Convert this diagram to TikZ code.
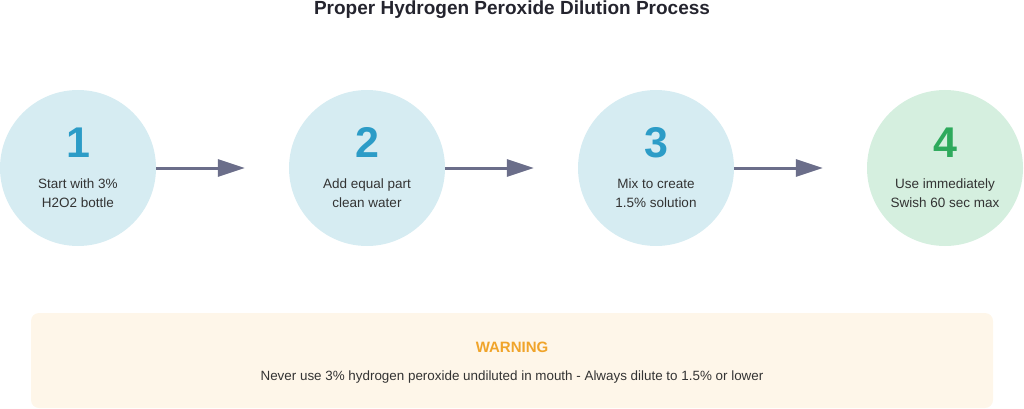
\documentclass[tikz,border=0pt]{standalone}
\usepackage{fontspec}
\setmainfont{Liberation Sans}
\usetikzlibrary{arrows.meta}
\definecolor{stepfill}{HTML}{D6ECF2}
\definecolor{donefill}{HTML}{D5EFDF}
\definecolor{numblue}{HTML}{2C9CC7}
\definecolor{numgreen}{HTML}{2EAA5C}
\definecolor{arrowc}{HTML}{6B6E8A}
\definecolor{txt}{HTML}{333333}
\definecolor{titlec}{HTML}{24242E}
\definecolor{warnfill}{HTML}{FEF6E9}
\definecolor{warnc}{HTML}{F0A42A}
\tikzset{
  stepcirc/.style={circle, fill=stepfill, minimum size=156pt, inner sep=0pt},
  donecirc/.style={circle, fill=donefill, minimum size=156pt, inner sep=0pt},
  numtxt/.style={font=\bfseries\fontsize{43}{43}\selectfont, text=numblue, inner sep=0pt},
  desc/.style={font=\fontsize{13.5}{19.5}\selectfont, text=txt, align=center, inner sep=0pt},
  flow/.style={draw=arrowc, line width=3pt, -{Triangle[length=27pt,width=17pt]}},
}
\begin{document}
\begin{tikzpicture}[x=1pt,y=-1pt]
\useasboundingbox (0,0) rectangle (1024,409);
\node[font=\bfseries\fontsize{19}{22}\selectfont, text=titlec, anchor=base] (title) at (512,14.5) {Proper Hydrogen Peroxide Dilution Process};

\node[stepcirc] (c1) at (78,168) {};
\node[stepcirc] (c2) at (367,168) {};
\node[stepcirc] (c3) at (656,168) {};
\node[donecirc] (c4) at (945,168) {};

\node[numtxt] (n1) at (78,142.5) {1};
\node[numtxt] (n2) at (367,142.5) {2};
\node[numtxt] (n3) at (656,142.5) {3};
\node[numtxt, text=numgreen] (n4) at (945,142.5) {4};

\node[desc, anchor=base] (d1) at (78,207.5) {Start with 3\%\\H2O2 bottle};
\node[desc, anchor=base] (d2) at (367,207.5) {Add equal part\\clean water};
\node[desc, anchor=base] (d3) at (656,207.5) {Mix to create\\1.5\% solution};
\node[desc, anchor=base] (d4) at (945,207.5) {Use immediately\\Swish 60 sec max};

\draw[flow] (c1.east) -- ([xshift=-44pt]c2.west);
\draw[flow] (c2.east) -- ([xshift=-44pt]c3.west);
\draw[flow] (c3.east) -- ([xshift=-44pt]c4.west);

\node[fill=warnfill, rounded corners=8pt, minimum width=962pt, minimum height=95pt, inner sep=0pt] (warn) at (512,360.5) {};
\node[font=\bfseries\fontsize{15}{18}\selectfont, text=warnc, anchor=base] (wt) at (512,352) {WARNING};
\node[font=\fontsize{13.4}{16}\selectfont, text=txt, anchor=base] (wm) at (512,380.5) {Never use 3\% hydrogen peroxide undiluted in mouth - Always dilute to 1.5\% or lower};
\end{tikzpicture}
\end{document}
